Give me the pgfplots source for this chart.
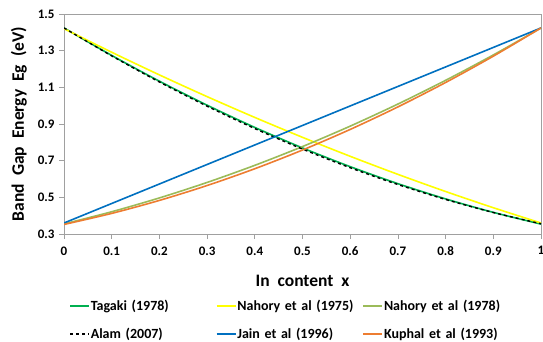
\documentclass[border=0pt]{standalone}
\usepackage{pgfplots}
\pgfplotsset{compat=1.18}
\usepackage{fontspec}
\setmainfont{Carlito}
\definecolor{cTag}{RGB}{0,176,80}
\definecolor{cNa75}{RGB}{255,255,0}
\definecolor{cNa78}{RGB}{155,187,89}
\definecolor{cJain}{RGB}{0,112,192}
\definecolor{cKup}{RGB}{237,125,49}
\definecolor{cFrame}{RGB}{160,160,160}
\begin{document}
\begin{tikzpicture}
\useasboundingbox (-64pt,-108pt) rectangle (479pt,234pt);
\begin{axis}[
  scale only axis,
  width=477pt, height=220pt,
  at={(0pt,0pt)}, anchor=south west,
  xmin=0, xmax=1, ymin=0.3, ymax=1.5,
  xtick={0,0.1,...,1.01},
  ytick={0.3,0.5,0.7,0.9,1.1,1.3,1.5},
  xticklabels={0,0.1,0.2,0.3,0.4,0.5,0.6,0.7,0.8,0.9,1},
  yticklabels={0.3,0.5,0.7,0.9,1.1,1.3,1.5},
  tick align=outside,
  xtick pos=bottom, ytick pos=left,
  major tick length=5pt,
  tick style={cFrame, line width=0.8pt},
  axis line style={cFrame, line width=0.9pt},
  tick label style={font=\fontsize{13}{15}\selectfont\bfseries},
  xticklabel style={yshift=-4pt},
  yticklabel style={xshift=-1pt},
  xlabel={In\ \ content\ \ x},
  ylabel={Band\ \ Gap\ \ Energy\ \ Eg\ \ (eV)},
  label style={font=\fontsize{17.5}{19}\selectfont\bfseries},
  xlabel style={yshift=-13pt},
  ylabel style={yshift=4pt},
  legend columns=3,
  legend cell align=left,
  legend image code/.code={\draw[#1] (0pt,0pt) -- (19pt,0pt);},
  legend style={
    at={(2pt,-62pt)}, anchor=north west,
    draw=none, fill=none,
    font=\fontsize{14}{16}\selectfont\bfseries,
    nodes={text width=124pt, inner xsep=1pt},
    row sep=12pt,
  },
  legend image post style={line width=1.6pt},
  every axis plot/.append style={line width=1.6pt, smooth},
]
% decreasing curves
\addplot[cTag] coordinates {
 (0,1.424) (0.1,1.274) (0.2,1.1335) (0.3,1.0026) (0.4,0.8813) (0.5,0.7695)
 (0.6,0.6673) (0.7,0.5746) (0.8,0.4915) (0.9,0.4180) (1,0.354)};
\addlegendentry{Tagaki (1978)}
\addplot[cNa75] coordinates {
 (0,1.420) (0.1,1.2914) (0.2,1.1678) (0.3,1.0493) (0.4,0.9358) (0.5,0.8273)
 (0.6,0.7238) (0.7,0.6253) (0.8,0.5318) (0.9,0.4434) (1,0.360)};
\addlegendentry{Nahory et al (1975)}
% increasing curves
\addplot[cNa78] coordinates {
 (0,0.355) (0.1,0.4214) (0.2,0.4968) (0.3,0.5812) (0.4,0.6746) (0.5,0.7770)
 (0.6,0.8884) (0.7,1.0088) (0.8,1.1382) (0.9,1.2766) (1,1.424)};
\addlegendentry{Nahory et al (1978)}
\addplot[black, dashed, line width=1.4pt] coordinates {
 (0,1.424) (0.1,1.2716) (0.2,1.1293) (0.3,0.9971) (0.4,0.8751) (0.5,0.7632)
 (0.6,0.6615) (0.7,0.5699) (0.8,0.4885) (0.9,0.4172) (1,0.356)};
\addlegendentry{Alam (2007)}
\addplot[cJain] coordinates {
 (0,0.360) (0.1,0.4664) (0.2,0.5728) (0.3,0.6792) (0.4,0.7856) (0.5,0.892)
 (0.6,0.9984) (0.7,1.1048) (0.8,1.2112) (0.9,1.3176) (1,1.424)};
\addlegendentry{Jain et al (1996)}
\addplot[cKup] coordinates {
 (0,0.352) (0.1,0.4124) (0.2,0.4832) (0.3,0.5644) (0.4,0.656) (0.5,0.758)
 (0.6,0.8704) (0.7,0.9932) (0.8,1.1264) (0.9,1.270) (1,1.424)};
\addlegendentry{Kuphal et al (1993)}
\end{axis}
\end{tikzpicture}
\end{document}
